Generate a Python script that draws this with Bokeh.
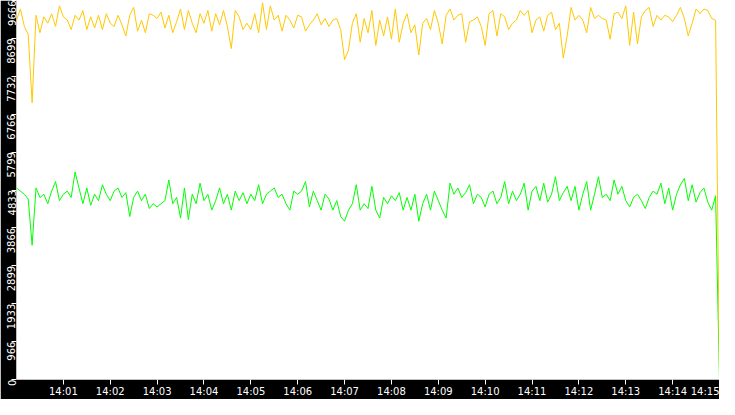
import datetime as dt
from bokeh.plotting import figure
from bokeh.models import Range1d, FixedTicker, DatetimeTickFormatter
from bokeh.embed import file_html
from bokeh.resources import INLINE

# ---- data -------------------------------------------------------------
START = dt.datetime(2024, 1, 1, 14, 0, 0)
STEP_SECONDS = 5

YELLOW = [
    9166, 9450, 9010, 8800, 7060, 9290, 8844, 9250, 9086, 9330,
    9005, 9530, 9250, 9170, 8924, 9290, 9166, 9410, 8924, 9250,
    8965, 9290, 8924, 9330, 9086, 9005, 9290, 9045, 8762, 9290,
    9490, 8884, 9166, 8844, 9330, 9290, 9207, 9370, 8965, 9290,
    8844, 9126, 9450, 8924, 9410, 9086, 8844, 9330, 9086, 9410,
    8884, 9330, 9045, 9410, 9005, 8440, 9410, 9250, 8924, 9086,
    8924, 9330, 8844, 9610, 8924, 9530, 9166, 9290, 8884, 9290,
    9166, 8965, 9290, 9247, 8884, 9045, 9166, 9330, 9045, 9207,
    9005, 9166, 9207, 8924, 8156, 8400, 9086, 9330, 8602, 9207,
    8844,
    9410, 8520, 9166, 8762, 9247, 8680, 9450, 8602, 9086,
    9330, 8844, 9045, 8275, 9086, 9207, 8924, 9410, 9086, 8560,
    9288, 9450, 9166, 9288, 9330, 8602, 9126, 9166, 9247, 9005,
    8520, 9330, 9410, 8762, 9330, 9250, 8924, 9086, 9166, 9410,
    9288, 9410, 8844, 9166, 9247, 8884, 9288, 9368, 8924, 9086,
    8196, 8762, 9489, 9166, 9288, 9166, 8844, 9489, 9207, 9288,
    9207, 9166, 8680, 9330, 9368, 9207, 9530, 8520, 9368, 8560,
    9247, 9410, 9489, 9005, 9288, 9166, 9288, 9247, 9126, 9288,
    9489, 9207, 8762, 9086, 9450, 9330, 9450, 9410, 9207, 9166,
    0,
]

GREEN = [
    4885, 4805, 4725, 4604, 3424, 4885, 4643, 4725, 4483, 4805,
    5047, 4562, 4725, 4805, 4643, 5290, 4885, 4483, 4885, 4442,
    4725, 4562, 4967, 4725, 4562, 4805, 4885, 4643, 4765, 4158,
    4643, 4805, 4562, 4725, 4361, 4483, 4401, 4483, 4562, 5088,
    4483, 4643, 4118, 4885, 4078, 4725, 4483, 5007, 4562, 4725,
    4320, 4562, 4885, 4483, 4725, 4320, 4805, 4562, 4765, 4483,
    4725, 4562, 4967, 4483, 4725, 4805, 4885, 4643, 4725, 4483,
    4320, 4805, 4725, 4805, 5047, 4401, 4805, 4562, 4320, 4725,
    4604, 4320, 4562, 4158, 4037, 4320, 4483, 4967, 4320, 4483,
    4361,
    4925, 4320, 4118, 4643, 4483, 4685, 4562, 4765, 4320,
    4643, 4320, 4725, 4037, 4483, 4725, 4320, 4805, 4562, 4320,
    4118, 5007, 4725, 4885, 4643, 4765, 4967, 4483, 4725, 4643,
    4401, 4725, 4805, 4483, 4643, 5047, 4483, 4805, 4562, 4725,
    5007, 4320, 4805, 4925, 4562, 5007, 4523, 4725, 5170, 4562,
    4765, 4925, 4562, 4925, 4320, 4725, 5047, 4320, 4725, 5170,
    4643, 4725, 4562, 5088, 4725, 4925, 4562, 4401, 4643, 4725,
    4562, 4361, 4643, 4805, 4725, 5007, 4483, 4885, 4320, 4725,
    4967, 5128, 4562, 4967, 4523, 4765, 4885, 4523, 4320, 4685,
    0,
]

X_TICK_MINUTES = list(range(1, 16))          # 14:01 ... 14:15
Y_MAX = 9666
Y_TICK_LABELS = ["0", "966", "1933", "2899", "3866", "4833",
                 "5799", "6766", "7732", "8699", "9666"]

# ---- derived ----------------------------------------------------------
times = [START + dt.timedelta(seconds=STEP_SECONDS * i) for i in range(len(YELLOW))]
epoch = dt.datetime(1970, 1, 1)
def to_ms(t):
    return (t - epoch).total_seconds() * 1000.0

x_start = START
x_end = START + dt.timedelta(minutes=15)
x_ticks = [to_ms(START + dt.timedelta(minutes=m)) for m in X_TICK_MINUTES]
y_ticks = [i * Y_MAX / 10 for i in range(len(Y_TICK_LABELS))]

p = figure(width=719, height=399, x_axis_type="datetime",
           output_backend="svg", toolbar_location=None,
           x_range=Range1d(x_start, x_end), y_range=Range1d(0, Y_MAX),
           min_border_left=0, min_border_right=0, min_border_top=0, min_border_bottom=0)

p.background_fill_color = "white"
p.border_fill_color = "black"
p.outline_line_color = None
p.xgrid.visible = False
p.ygrid.visible = False

p.line(times, GREEN, line_color="#00ff00", line_width=1)
p.line(times, YELLOW, line_color="#ffc800", line_width=1)

fmt = "%H:%M"
p.xaxis.ticker = FixedTicker(ticks=x_ticks)
p.xaxis.formatter = DatetimeTickFormatter(seconds=fmt, minsec=fmt, minutes=fmt,
                                          hourmin=fmt, hours=fmt)
p.yaxis.ticker = FixedTicker(ticks=y_ticks)
p.yaxis.major_label_overrides = {t: lab for t, lab in zip(y_ticks, Y_TICK_LABELS)}
p.yaxis.major_label_orientation = 3.14159265 / 2

for ax in (p.xaxis[0], p.yaxis[0]):
    ax.axis_line_color = None
    ax.major_tick_line_color = "white"
    ax.major_tick_out = 5
    ax.major_tick_in = 0
    ax.minor_tick_line_color = None
    ax.major_label_text_color = "white"
    ax.major_label_text_font = "DejaVu Sans"
    ax.major_label_text_font_size = "10px"
p.xaxis.major_label_standoff = 1
p.yaxis.major_label_standoff = 0

open("out.html", "w").write(file_html(p, INLINE))
